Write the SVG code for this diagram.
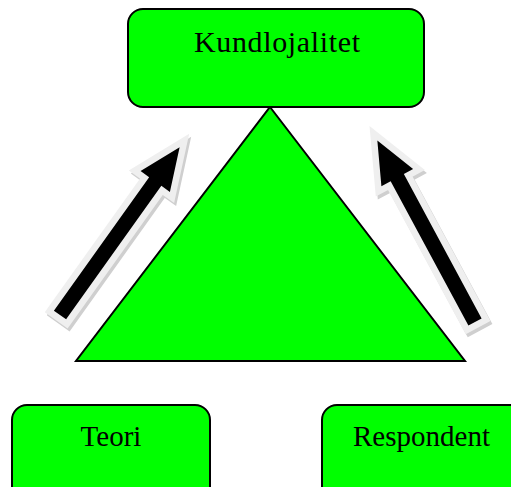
<svg xmlns="http://www.w3.org/2000/svg" width="511" height="487" viewBox="0 0 511 487">
<style>
.box{fill:#00ff00;stroke:#000;stroke-width:2}
.lbl{font-family:"Liberation Serif","Times New Roman",serif;font-size:29px;fill:#000;text-anchor:middle}
.sh{fill:#cfcfcf;stroke:#cfcfcf;stroke-width:13;stroke-linejoin:miter}
.ol{fill:#efefef;stroke:#efefef;stroke-width:13;stroke-linejoin:miter}
.ar{fill:#000}
</style>
<defs>
<path id="arr" d="M0,-7.5 L164,-7.5 L164,-18 L206,0 L164,18 L164,7.5 L0,7.5 Z"/>
</defs>
<g id="triangle">
<polygon points="270,107 465,361 76,361" fill="#00ff00" stroke="#000" stroke-width="2"/>
</g>
<g id="connectors">
<g id="arrow-left">
<use href="#arr" class="sh" transform="translate(62,318) rotate(-54.5)"/>
<use href="#arr" class="ol" transform="translate(60,315) rotate(-54.5)"/>
<use href="#arr" class="ar" transform="translate(60,315) rotate(-54.5)"/>
</g>
<g id="arrow-right">
<use href="#arr" class="sh" transform="translate(477,325) rotate(-118.3)"/>
<use href="#arr" class="ol" transform="translate(475,322) rotate(-118.3)"/>
<use href="#arr" class="ar" transform="translate(475,322) rotate(-118.3)"/>
</g>
</g>
<g id="kundlojalitet">
<rect class="box" x="128" y="9" width="296" height="98" rx="15"/>
<text class="lbl" x="277" y="52" style="font-size:30px" textLength="166" lengthAdjust="spacing">Kundlojalitet</text>
</g>
<g id="teori">
<rect class="box" x="12" y="405" width="198" height="100" rx="15"/>
<text class="lbl" x="111" y="446">Teori</text>
</g>
<g id="respondent">
<rect class="box" x="322" y="405" width="210" height="100" rx="15"/>
<text class="lbl" x="421.5" y="446">Respondent</text>
</g>
</svg>
